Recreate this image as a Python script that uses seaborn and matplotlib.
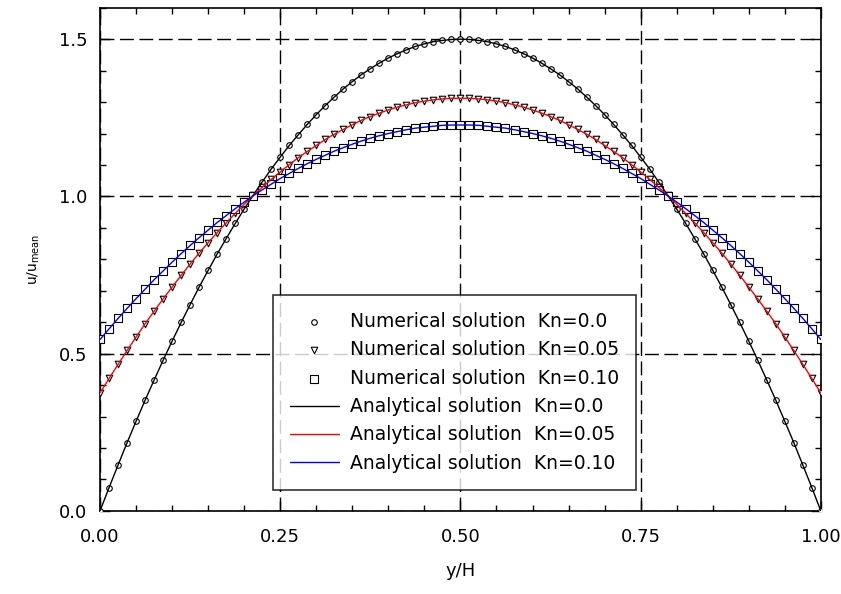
import numpy as np
import matplotlib
matplotlib.use("Agg")
import matplotlib.pyplot as plt
import seaborn as sns

# y/H positions of the computed points
y_h = [0.0, 0.0125, 0.025, 0.0375, 0.05, 0.0625, 0.075, 0.0875, 0.1, 0.1125,
       0.125, 0.1375, 0.15, 0.1625, 0.175, 0.1875, 0.2, 0.2125, 0.225, 0.2375,
       0.25, 0.2625, 0.275, 0.2875, 0.3, 0.3125, 0.325, 0.3375, 0.35, 0.3625,
       0.375, 0.3875, 0.4, 0.4125, 0.425, 0.4375, 0.45, 0.4625, 0.475, 0.4875,
       0.5, 0.5125, 0.525, 0.5375, 0.55, 0.5625, 0.575, 0.5875, 0.6, 0.6125,
       0.625, 0.6375, 0.65, 0.6625, 0.675, 0.6875, 0.7, 0.7125, 0.725, 0.7375,
       0.75, 0.7625, 0.775, 0.7875, 0.8, 0.8125, 0.825, 0.8375, 0.85, 0.8625,
       0.875, 0.8875, 0.9, 0.9125, 0.925, 0.9375, 0.95, 0.9625, 0.975, 0.9875, 1.0]

# u/u_mean, Kn = 0.0
u_kn000 = [0.0, 0.074, 0.146, 0.217, 0.285, 0.352, 0.416, 0.479, 0.54, 0.599,
           0.656, 0.712, 0.765, 0.817, 0.866, 0.914, 0.96, 1.004, 1.046, 1.087,
           1.125, 1.162, 1.196, 1.229, 1.26, 1.289, 1.316, 1.342, 1.365, 1.387,
           1.406, 1.424, 1.44, 1.454, 1.466, 1.477, 1.485, 1.492, 1.496, 1.499,
           1.5, 1.499, 1.496, 1.492, 1.485, 1.477, 1.466, 1.454, 1.44, 1.424,
           1.406, 1.387, 1.365, 1.342, 1.316, 1.289, 1.26, 1.229, 1.196, 1.162,
           1.125, 1.087, 1.046, 1.004, 0.96, 0.914, 0.866, 0.817, 0.765, 0.712,
           0.656, 0.599, 0.54, 0.479, 0.416, 0.352, 0.285, 0.217, 0.146, 0.074, 0.0]

# u/u_mean, Kn = 0.05
u_kn005 = [0.375, 0.421, 0.466, 0.510, 0.553, 0.595, 0.635, 0.674, 0.712, 0.749,
           0.785, 0.820, 0.853, 0.885, 0.916, 0.946, 0.975, 1.003, 1.029, 1.054,
           1.078, 1.101, 1.123, 1.143, 1.162, 1.181, 1.198, 1.213, 1.228, 1.242,
           1.254, 1.265, 1.275, 1.284, 1.291, 1.298, 1.303, 1.307, 1.310, 1.312,
           1.312, 1.312, 1.310, 1.307, 1.303, 1.298, 1.291, 1.284, 1.275, 1.265,
           1.254, 1.242, 1.228, 1.213, 1.198, 1.181, 1.162, 1.143, 1.123, 1.101,
           1.078, 1.054, 1.029, 1.003, 0.975, 0.946, 0.916, 0.885, 0.853, 0.820,
           0.785, 0.749, 0.712, 0.674, 0.635, 0.595, 0.553, 0.510, 0.466, 0.421, 0.375]

# u/u_mean, Kn = 0.10
u_kn010 = [0.545, 0.579, 0.612, 0.644, 0.675, 0.705, 0.735, 0.763, 0.791, 0.818,
           0.844, 0.869, 0.893, 0.917, 0.939, 0.961, 0.982, 1.002, 1.021, 1.039,
           1.057, 1.073, 1.089, 1.104, 1.118, 1.131, 1.144, 1.155, 1.166, 1.176,
           1.185, 1.193, 1.200, 1.206, 1.212, 1.217, 1.220, 1.223, 1.226, 1.227,
           1.227, 1.227, 1.226, 1.223, 1.220, 1.217, 1.212, 1.206, 1.200, 1.193,
           1.185, 1.176, 1.166, 1.155, 1.144, 1.131, 1.118, 1.104, 1.089, 1.073,
           1.057, 1.039, 1.021, 1.002, 0.982, 0.961, 0.939, 0.917, 0.893, 0.869,
           0.844, 0.818, 0.791, 0.763, 0.735, 0.705, 0.675, 0.644, 0.612, 0.579, 0.545]

kn_labels = ["Kn=0.0", "Kn=0.05", "Kn=0.10"]
series = [u_kn000, u_kn005, u_kn010]
markers = ["o", "v", "s"]
msizes = [16, 22, 34]
line_colors = ["black", "red", "blue"]

sns.set_style("ticks")
plt.rcParams['font.family'] = ['DejaVu Sans']
plt.rcParams['text.color'] = 'black'
plt.rcParams['axes.labelcolor'] = 'black'

fig = plt.figure(figsize=(8.41, 5.94), dpi=100)
ax = fig.add_axes([0.119, 0.140, 0.857, 0.847])

for u, m, s, lab in zip(series, markers, msizes, kn_labels):
    sns.scatterplot(x=y_h, y=u, ax=ax, marker=m, s=s, facecolor="white",
                    edgecolor="black", linewidth=0.8, zorder=3,
                    label="Numerical solution  " + lab)

for u, c, lab in zip(series, line_colors, kn_labels):
    sns.lineplot(x=y_h, y=u, ax=ax, color=c, linewidth=1.0, zorder=4,
                 label="Analytical solution  " + lab)

ax.set_xlim(0, 1)
ax.set_ylim(0, 1.6)
ax.set_xticks([0, 0.25, 0.5, 0.75, 1.0])
ax.set_xticklabels(["0.00", "0.25", "0.50", "0.75", "1.00"])
ax.set_yticks([0, 0.5, 1.0, 1.5])
ax.set_yticklabels(["0.0", "0.5", "1.0", "1.5"])
ax.set_xticks(np.arange(0, 1.0001, 0.05), minor=True)
ax.set_yticks(np.arange(0, 1.6001, 0.1), minor=True)
ax.tick_params(which="both", direction="in", top=True, right=True,
               labelsize=13, color="black", labelcolor="black", width=1)
ax.tick_params(which="major", length=7)
ax.tick_params(which="minor", length=4)
ax.tick_params(axis="x", which="major", pad=12)
ax.tick_params(axis="y", which="major", pad=9)
for sp in ax.spines.values():
    sp.set_linewidth(1.2)
    sp.set_color("black")

ax.grid(True, which="major", color="black", linestyle=(0, (10, 4)), linewidth=1.0)
ax.set_axisbelow(True)

ax.set_xlabel("y/H", fontsize=13, labelpad=12)
ax.set_ylabel("u/u$_{\\mathrm{mean}}$", fontsize=10, labelpad=12)

leg = ax.legend(loc="lower left", bbox_to_anchor=(0.24, 0.042), borderaxespad=0,
                fontsize=13.5, frameon=True, fancybox=False, handlelength=2.6,
                handletextpad=0.6, labelspacing=0.5, borderpad=0.9)
leg.get_frame().set_edgecolor("black")
leg.get_frame().set_linewidth(1.2)

fig.savefig("out.png", dpi=100)
